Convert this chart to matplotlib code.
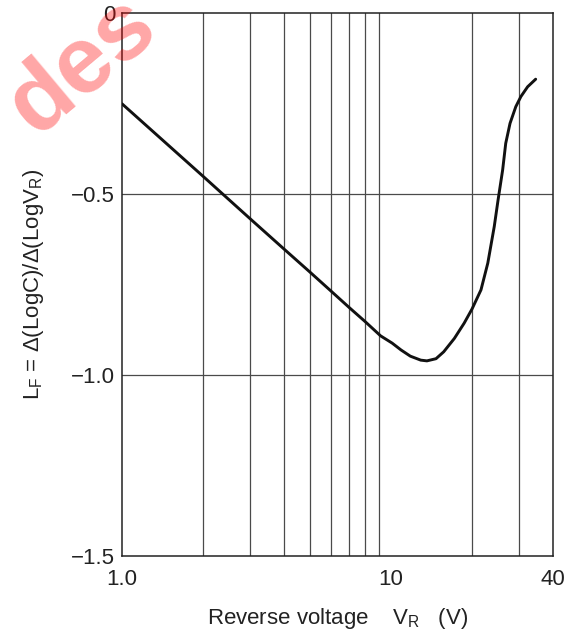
import matplotlib
matplotlib.use("Agg")
import matplotlib.pyplot as plt

plt.rcParams['font.family'] = ['Liberation Sans', 'DejaVu Sans']
plt.rcParams['mathtext.fontset'] = 'custom'
plt.rcParams['mathtext.rm'] = 'Liberation Sans'
plt.rcParams['axes.unicode_minus'] = True

# 数据
vr = [1.0, 1.5, 2.0, 2.5, 3.0, 4.0, 5.0, 6.0, 7.0, 8.0, 9.15, 10.1, 10.9,
      11.8, 12.9, 13.6, 14.7, 15.7, 17.2, 18.7, 20.0, 21.6, 22.9, 24.2,
      25.0, 26.0, 26.7, 27.7, 29.1, 30.4, 32.2, 34.5]
lf = [-0.251, -0.368, -0.451, -0.516, -0.569, -0.652, -0.716, -0.769,
      -0.814, -0.852, -0.892, -0.912, -0.931, -0.948, -0.959, -0.961,
      -0.955, -0.936, -0.899, -0.857, -0.818, -0.765, -0.691, -0.590,
      -0.517, -0.434, -0.360, -0.305, -0.259, -0.231, -0.204, -0.183]

xgrid = [2, 3, 4, 5, 6, 7, 8, 9, 20, 30]
ygrid = [-0.5, -1.0]
xticks = [1, 10, 40]
xticklabels = ['1.0', '10', '40']
yticks = [0, -0.5, -1.0, -1.5]
yticklabels = ['0', '−0.5', '−1.0', '−1.5']


def draw():
    fig = plt.figure(figsize=(5.76, 6.33), dpi=100)
    ax = fig.add_axes([0.2118, 0.1216, 0.7482, 0.858])
    ax.set_xscale('log')
    ax.set_xlim(1, 40)
    ax.set_ylim(-1.5, 0)

    for x in xgrid:
        ax.axvline(x, color='#4a4a4a', lw=0.9, zorder=1)
    for y in ygrid:
        ax.axhline(y, color='#4a4a4a', lw=0.9, zorder=1)

    ax.plot(vr, lf, color='#111111', lw=2.1, zorder=3,
            solid_joinstyle='round', solid_capstyle='round')

    ax.set_xticks(xticks)
    ax.set_xticklabels(xticklabels)
    ax.xaxis.set_minor_locator(matplotlib.ticker.NullLocator())
    ax.set_yticks(yticks)
    ax.set_yticklabels(yticklabels)
    ax.tick_params(length=0, labelsize=16, colors='#222222')
    ax.tick_params(axis='x', pad=9)
    ax.tick_params(axis='y', pad=5)
    for s in ax.spines.values():
        s.set_color('#222222')
        s.set_linewidth(1.1)

    ax.set_xlabel('Reverse voltage    V$_\\mathregular{R}$   (V)', fontsize=16,
                  color='#222222', labelpad=12)
    ax.set_ylabel('L$_\\mathregular{F}$ = Δ(LogC)/Δ(LogV$_\\mathregular{R}$)',
                  fontsize=16, color='#222222', labelpad=18)

    # watermark
    fig.text(0.142, 0.896, 'des', fontsize=68, fontweight='bold', color='red',
             alpha=0.35, rotation=40, ha='center', va='center', zorder=10)

    fig.savefig('out.png', dpi=100)


if __name__ == '__main__':
    draw()
